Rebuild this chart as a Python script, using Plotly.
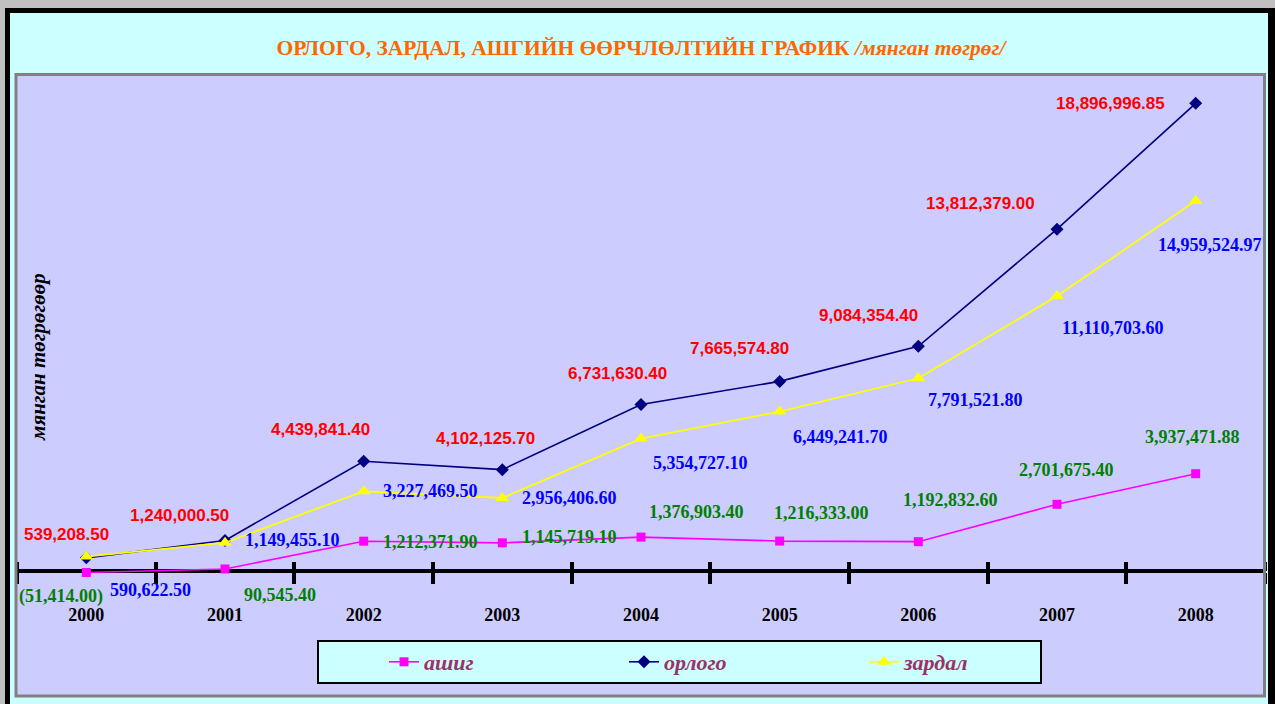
import plotly.graph_objects as go

# ---------------- data ----------------
years = ["2000", "2001", "2002", "2003", "2004", "2005", "2006", "2007", "2008"]
orlogo = [539208.50, 1240000.50, 4439841.40, 4102125.70, 6731630.40,
          7665574.80, 9084354.40, 13812379.00, 18896996.85]
zardal = [590622.50, 1149455.10, 3227469.50, 2956406.60, 5354727.10,
          6449241.70, 7791521.80, 11110703.60, 14959524.97]
ashig = [-51414.00, 90545.40, 1212371.90, 1145719.10, 1376903.40,
         1216333.00, 1192832.60, 2701675.40, 3937471.88]
series_names = ["ашиг", "орлого", "зардал"]
title_main = "ОРЛОГО, ЗАРДАЛ, АШГИЙН ӨӨРЧЛӨЛТИЙН ГРАФИК "
title_unit = "/мянган төгрөг/"
y_title = "мянган төгрөгөөр"

# label offsets (pixels, style only)
orlogo_dx = [-20, -46, -43, -17, -24, -40, -50, -77, -85]
orlogo_dy = [23, 25, 32, 31, 31, 33, 31, 26, 0]
zardal_dx = [64, 67, 67, 67, 59, 61, 57, 56, 14]
zardal_dy = [-33, 3, 0, 0, -24, -25, -22, -32, -44]
ashig_dx = [-25, 55, 67, 67, 55, 42, 32, 9, -3]
ashig_dy = [-24, -26, -1, 6, 25, 28, 42, 34, 37]

# ---------------- layout geometry ----------------
W, H = 1275, 704
L, R, T, B = 17, 10, 76, 9
PW, PH = W - L - R, H - T - B
Y_RANGE = [-5e6, 20e6]


def px_x(px):
    return (px - L) / PW


def px_y(py):
    return (H - B - py) / PH


def fmt(v):
    s = f"{abs(v):,.2f}"
    return f"({s})" if v < 0 else s


SERIF = "Liberation Serif, Times New Roman, serif"
SANS = "Liberation Sans, Arial, sans-serif"

fig = go.Figure()
fig.add_trace(go.Scatter(
    x=years, y=ashig, name=series_names[0], mode="lines+markers",
    line=dict(color="#FF00FF", width=1.6),
    marker=dict(symbol="square", size=9, color="#FF00FF")))
fig.add_trace(go.Scatter(
    x=years, y=orlogo, name=series_names[1], mode="lines+markers",
    line=dict(color="#000080", width=1.6),
    marker=dict(symbol="diamond", size=10, color="#000080")))
fig.add_trace(go.Scatter(
    x=years, y=zardal, name=series_names[2], mode="lines+markers",
    line=dict(color="#FFFF00", width=1.8),
    marker=dict(symbol="triangle-up", size=12, color="#FFFF00")))
# helper trace carrying the upper half of the category tick marks
fig.add_trace(go.Scatter(
    x=years, y=orlogo, xaxis="x2", yaxis="y", mode="lines",
    line=dict(width=0), opacity=0, showlegend=False, hoverinfo="skip"))

annotations = []
for vals, dxs, dys, color, fam, size in [
        (orlogo, orlogo_dx, orlogo_dy, "#FF0000", SANS, 17),
        (zardal, zardal_dx, zardal_dy, "#0000FF", SERIF, 18),
        (ashig, ashig_dx, ashig_dy, "#008000", SERIF, 18)]:
    for i, (v, dx, dy) in enumerate(zip(vals, dxs, dys)):
        # category index position on the category x axis
        annotations.append(dict(
            x=i, y=v, xref="x", yref="y", text="<b>" + fmt(v) + "</b>",
            showarrow=False, xshift=dx, yshift=dy,
            xanchor="center", yanchor="middle",
            font=dict(family=fam, size=size, color=color)))

annotations.append(dict(
    x=px_x(38), y=px_y(357), xref="paper", yref="paper",
    text="<b><i>" + y_title + "</i></b>",
    showarrow=False, textangle=-90, xanchor="center", yanchor="middle",
    font=dict(family=SERIF, size=21, color="#000000")))

axis_pos = (0 - Y_RANGE[0]) / (Y_RANGE[1] - Y_RANGE[0])

shapes = [
    # legend box
    dict(type="rect", xref="paper", yref="paper", x0=px_x(318), x1=px_x(1041),
         y0=px_y(683), y1=px_y(641), fillcolor="#CCFFFF",
         line=dict(color="#000000", width=2), layer="below"),
    # plot area border
    dict(type="rect", xref="paper", yref="paper", x0=px_x(16), x1=px_x(1264.5),
         y0=px_y(696), y1=px_y(74.5), line=dict(color="#808080", width=3)),
    # outer grey page
    dict(type="rect", xref="paper", yref="paper", x0=px_x(0), x1=px_x(W),
         y0=px_y(8), y1=px_y(-2), fillcolor="#C0C0C0", line=dict(width=0)),
    dict(type="rect", xref="paper", yref="paper", x0=px_x(-2), x1=px_x(5),
         y0=px_y(H + 2), y1=px_y(0), fillcolor="#C0C0C0", line=dict(width=0)),
    # black chart border
    dict(type="rect", xref="paper", yref="paper", x0=px_x(5), x1=px_x(W + 2),
         y0=px_y(13), y1=px_y(8), fillcolor="#000000", line=dict(width=0)),
    dict(type="rect", xref="paper", yref="paper", x0=px_x(5), x1=px_x(10),
         y0=px_y(H + 2), y1=px_y(8), fillcolor="#000000", line=dict(width=0)),
    dict(type="rect", xref="paper", yref="paper", x0=px_x(1268), x1=px_x(W + 2),
         y0=px_y(H + 2), y1=px_y(8), fillcolor="#000000", line=dict(width=0)),
]

common_x = dict(type="category", categoryorder="array", categoryarray=years,
                range=[-0.5, len(years) - 0.5], tickson="boundaries",
                showgrid=False, zeroline=False, fixedrange=True,
                layer="below traces")

fig.update_layout(
    width=W, height=H,
    margin=dict(l=L, r=R, t=T, b=B, pad=0),
    paper_bgcolor="#CCFFFF", plot_bgcolor="#CCCCFF",
    title=dict(text="<b>" + title_main + "<i>" + title_unit + "</i></b>",
               x=0.5, xref="paper", xanchor="center",
               y=1 - 47 / H, yref="container", yanchor="middle",
               font=dict(family=SERIF, size=21.5, color="#FF6600")),
    xaxis=dict(**common_x, anchor="free", position=axis_pos,
               showline=True, linecolor="#000000", linewidth=4,
               ticks="outside", ticklen=11, tickwidth=4, tickcolor="#000000",
               ticklabelstandoff=26,
               tickfont=dict(family=SERIF, size=18, color="#000000", weight="bold")),
    xaxis2=dict(**common_x, overlaying="x", anchor="free", position=axis_pos,
                side="top", showline=False, showticklabels=False,
                ticks="outside", ticklen=9, tickwidth=4, tickcolor="#000000"),
    yaxis=dict(range=Y_RANGE, visible=True, showgrid=False, zeroline=False,
               showline=False, showticklabels=False, ticks="",
               fixedrange=True),
    showlegend=True,
    legend=dict(orientation="h", x=px_x(384), xanchor="left",
                y=px_y(662), yanchor="middle", bgcolor="rgba(0,0,0,0)",
                borderwidth=0, entrywidth=195, entrywidthmode="pixels",
                font=dict(family=SERIF, size=22, color="#993366",
                          weight="bold", style="italic")),
    annotations=annotations,
    shapes=shapes,
)

fig.write_html("out.html", config={"displayModeBar": False},
               post_script="document.body.style.margin='0px';")
